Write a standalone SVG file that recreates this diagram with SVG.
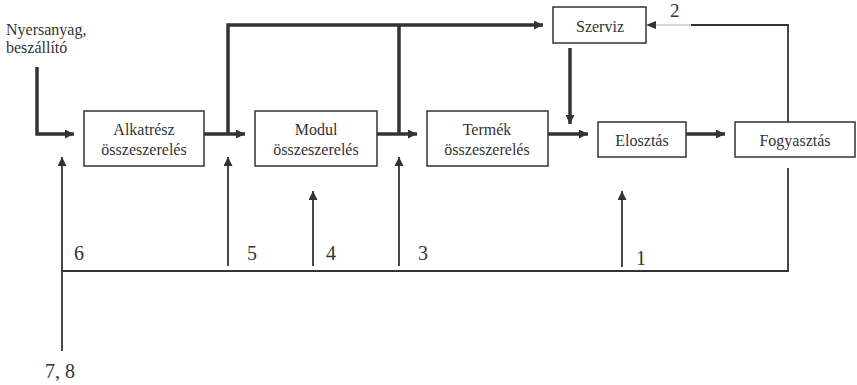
<svg xmlns="http://www.w3.org/2000/svg" width="857" height="385" viewBox="0 0 857 385">
<defs>
<marker id="ah" viewBox="0 0 10 10" refX="10" refY="5" markerWidth="10" markerHeight="9" markerUnits="userSpaceOnUse" orient="auto">
<path d="M0,0 L10,5 L0,10 Z" fill="#333"/>
</marker>
</defs>
<rect width="857" height="385" fill="#fff"/>
<g id="connectors" fill="none" stroke="#333">
<g stroke-width="3.5">
<path d="M37,67 V134 H74" marker-end="url(#ah)"/>
<path d="M204,134 H245" marker-end="url(#ah)"/>
<path d="M228,134 V25 H543" marker-end="url(#ah)"/>
<path d="M377,134 H417" marker-end="url(#ah)"/>
<path d="M399,134 V25"/>
<path d="M548,134 H588" marker-end="url(#ah)"/>
<path d="M570,48 V124" marker-end="url(#ah)"/>
<path d="M686,134 H725" marker-end="url(#ah)"/>
</g>
<g stroke-width="1.8">
<path d="M788,122 V25 H691"/>
<path d="M788,168 V271 H62"/>
<path d="M62,351 V157" marker-end="url(#ah)"/>
<path d="M228,266 V157" marker-end="url(#ah)"/>
<path d="M313,266 V191" marker-end="url(#ah)"/>
<path d="M399,266 V157" marker-end="url(#ah)"/>
<path d="M622,267 V191" marker-end="url(#ah)"/>
</g>
<path d="M691,25 H656" stroke="#aaa" stroke-width="1"/>
<path d="M646,25 L656,21 L656,29 Z" fill="#333" stroke="none"/>
</g>
<g id="labels" fill="#333">
<text transform="translate(6,35) scale(0.6667)" font-family="Liberation Serif" font-size="24">Nyersanyag,</text>
<text transform="translate(6,53) scale(0.6667)" font-family="Liberation Serif" font-size="24">beszállító</text>
<text transform="translate(670,17) scale(0.6667)" font-family="Liberation Serif" font-size="28.5">2</text>
<text transform="translate(74,260) scale(0.6667)" font-family="Liberation Serif" font-size="30">6</text>
<text transform="translate(247,260) scale(0.6667)" font-family="Liberation Serif" font-size="30">5</text>
<text transform="translate(326,260) scale(0.6667)" font-family="Liberation Serif" font-size="30">4</text>
<text transform="translate(418,260) scale(0.6667)" font-family="Liberation Serif" font-size="30">3</text>
<text transform="translate(636,265) scale(0.6667)" font-family="Liberation Serif" font-size="30">1</text>
<text transform="translate(45,378) scale(0.6667)" font-family="Liberation Serif" font-size="30">7, 8</text>
</g>
<g id="alkatresz" fill="#333">
<rect x="84" y="111" width="120" height="55" fill="#fff" stroke="#333" stroke-width="1.5"/>
<text transform="translate(144,135) scale(0.6667)" font-family="Liberation Serif" font-size="24" text-anchor="middle">Alkatrész</text>
<text transform="translate(144,155) scale(0.6667)" font-family="Liberation Serif" font-size="24" text-anchor="middle">összeszerelés</text>
</g>
<g id="modul" fill="#333">
<rect x="255" y="111" width="122" height="55" fill="#fff" stroke="#333" stroke-width="1.5"/>
<text transform="translate(316,135) scale(0.6667)" font-family="Liberation Serif" font-size="24" text-anchor="middle">Modul</text>
<text transform="translate(316,155) scale(0.6667)" font-family="Liberation Serif" font-size="24" text-anchor="middle">összeszerelés</text>
</g>
<g id="termek" fill="#333">
<rect x="427" y="111" width="121" height="55" fill="#fff" stroke="#333" stroke-width="1.5"/>
<text transform="translate(487,135) scale(0.6667)" font-family="Liberation Serif" font-size="24" text-anchor="middle">Termék</text>
<text transform="translate(487,155) scale(0.6667)" font-family="Liberation Serif" font-size="24" text-anchor="middle">összeszerelés</text>
</g>
<g id="szerviz" fill="#333">
<rect x="553" y="7" width="93" height="36" fill="#fff" stroke="#333" stroke-width="1.5"/>
<text transform="translate(600,32) scale(0.6667)" font-family="Liberation Serif" font-size="24" text-anchor="middle">Szerviz</text>
</g>
<g id="elosztas" fill="#333">
<rect x="598" y="122" width="88" height="35" fill="#fff" stroke="#333" stroke-width="1.5"/>
<text transform="translate(642,146) scale(0.6667)" font-family="Liberation Serif" font-size="24" text-anchor="middle">Elosztás</text>
</g>
<g id="fogyasztas" fill="#333">
<rect x="735" y="122" width="120" height="35" fill="#fff" stroke="#333" stroke-width="1.5"/>
<text transform="translate(795,146) scale(0.6667)" font-family="Liberation Serif" font-size="24" text-anchor="middle">Fogyasztás</text>
</g>
</svg>
